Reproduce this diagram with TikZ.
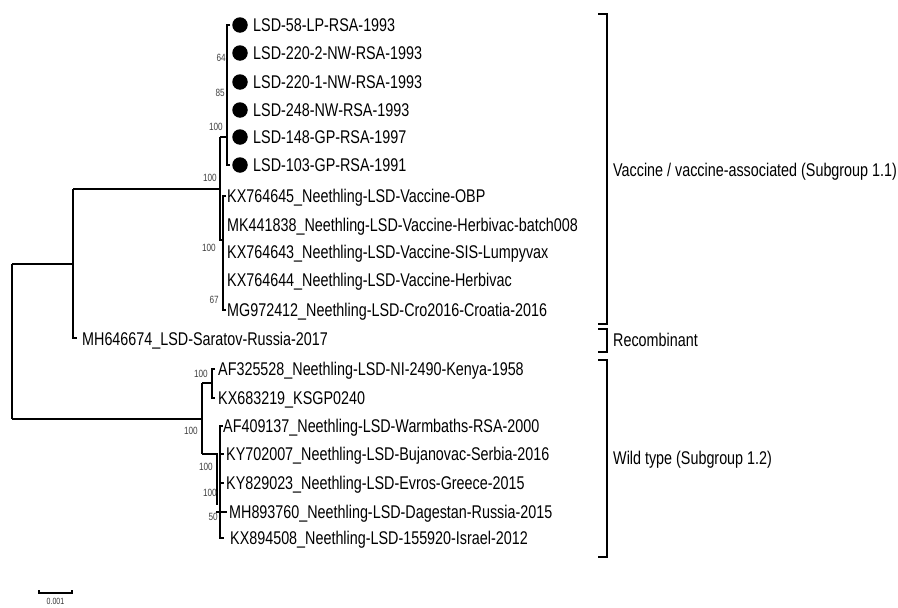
\documentclass[tikz,border=0pt]{standalone}
\usepackage{fontspec}
\setmainfont{Liberation Sans}[FakeStretch=0.78]
\begin{document}
\begin{tikzpicture}[x=1pt,y=-1pt,
  branch/.style={line width=1.3pt, line join=miter},
  brk/.style={line width=1.5pt, line join=miter},
  leaf/.style={anchor=base west, inner sep=0pt, font=\fontsize{18.4}{20}\selectfont},
  grp/.style={anchor=base west, inner sep=0pt, font=\fontsize{18.4}{20}\selectfont},
  boot/.style={anchor=east, inner sep=0pt, font=\fontsize{10.5}{11}\selectfont, text=black!75},
  dotmark/.style={circle, fill=black, inner sep=0pt, minimum size=15.5pt}]
\useasboundingbox (0,0) rectangle (898,608);

% ---------- leaves ----------
\foreach \n/\y in {d0/25, d1/53, d2/82, d3/110, d4/137, d5/165}
  \node[dotmark] (\n) at (240,\y) {};
\node[leaf] (l0) at (253,25+6.5) {LSD-58-LP-RSA-1993};
\node[leaf] (l1) at (253,53+6.5) {LSD-220-2-NW-RSA-1993};
\node[leaf] (l2) at (253,82+6.5) {LSD-220-1-NW-RSA-1993};
\node[leaf] (l3) at (253,110+6.5) {LSD-248-NW-RSA-1993};
\node[leaf] (l4) at (253,137+6.5) {LSD-148-GP-RSA-1997};
\node[leaf] (l5) at (253,165+6.5) {LSD-103-GP-RSA-1991};
\node[leaf] (l6) at (227,196+6.5) {KX764645\_Neethling-LSD-Vaccine-OBP};
\node[leaf] (l7) at (227,225+6.5) {MK441838\_Neethling-LSD-Vaccine-Herbivac-batch008};
\node[leaf] (l8) at (227,252+6.5) {KX764643\_Neethling-LSD-Vaccine-SIS-Lumpyvax};
\node[leaf] (l9) at (227,280+6.5) {KX764644\_Neethling-LSD-Vaccine-Herbivac};
\node[leaf] (l10) at (227,310+6.5) {MG972412\_Neethling-LSD-Cro2016-Croatia-2016};
\node[leaf] (l11) at (82,339+6.5) {MH646674\_LSD-Saratov-Russia-2017};
\node[leaf] (l12) at (218,369+6.5) {AF325528\_Neethling-LSD-NI-2490-Kenya-1958};
\node[leaf] (l13) at (218,398+6.5) {KX683219\_KSGP0240};
\node[leaf] (l14) at (223,426+6.5) {AF409137\_Neethling-LSD-Warmbaths-RSA-2000};
\node[leaf] (l15) at (226,454+6.5) {KY702007\_Neethling-LSD-Bujanovac-Serbia-2016};
\node[leaf] (l16) at (226,483+6.5) {KY829023\_Neethling-LSD-Evros-Greece-2015};
\node[leaf] (l17) at (229,512+6.5) {MH893760\_Neethling-LSD-Dagestan-Russia-2015};
\node[leaf] (l18) at (230,538+6.5) {KX894508\_Neethling-LSD-155920-Israel-2012};

% ---------- internal node points ----------
\coordinate (rootT) at (12,264);
\coordinate (rootB) at (12,419);
\coordinate (aT) at (73,189);
\coordinate (aM) at (73,264);
\coordinate (aB) at (73,338);
\coordinate (vT) at (220,137);
\coordinate (vM) at (220,189);
\coordinate (vB) at (220,240);
\coordinate (lT) at (227,25);
\coordinate (lM) at (227,137);
\coordinate (lB) at (227,165);
\coordinate (kT) at (223,196);
\coordinate (kM) at (223,240);
\coordinate (kB) at (223,310);
\coordinate (wT) at (202,383);
\coordinate (wM) at (202,419);
\coordinate (wB) at (202,454);
\coordinate (akT) at (212,369);
\coordinate (akM) at (212,383);
\coordinate (akB) at (212,398);
\coordinate (bT) at (217,454);
\coordinate (bB) at (217,505);
\coordinate (cT) at (220,426);
\coordinate (cM) at (220,454);
\coordinate (cB) at (220,538);

% ---------- branches ----------
\draw[branch] (rootT) -- (rootB);
\draw[branch] (rootT) -- (aM);
\draw[branch] (rootB) -- (wM);
\draw[branch] (aT) -- (aB) -- ++(4,0);
\draw[branch] (aT) -- (vM);
\draw[branch] (vT) -- (vB) -- (kM);
\draw[branch] (vT) -- (lM);
\draw[branch] ([xshift=3pt]lT) -- (lT) -- (lB) -- ++(3,0);
\draw[branch] ([xshift=3pt]kT) -- (kT) -- (kB) -- ++(3,0);
\draw[branch] (wT) -- (wB);
\draw[branch] (wT) -- (akM);
\draw[branch] ([xshift=3pt]akT) -- (akT) -- (akB) -- ++(3,0);
\draw[branch] (wB) -- (bT) -- (bB);
\draw[branch] ([xshift=3pt]cT) -- (cT) -- (cB) -- ++(4,0);
\draw[branch] (cM) -- ++(4,0);
\draw[branch] (220,483) -- ++(4,0);
\draw[branch] (216,512) -- (227,512);

% ---------- bootstrap values ----------
\node[boot] (b64) at (226,58) {64};
\node[boot] (b85) at (225,93) {85};
\node[boot] (b100a) at (223,127) {100};
\node[boot] (b100b) at (217,178) {100};
\node[boot] (b100c) at (216,248) {100};
\node[boot] (b67) at (219,300) {67};
\node[boot] (b100d) at (208,374) {100};
\node[boot] (b100e) at (198,431) {100};
\node[boot] (b100f) at (213,467) {100};
\node[boot] (b100g) at (217,493) {100};
\node[boot] (b50) at (218,517) {50};

% ---------- group brackets ----------
\coordinate (g1t) at (607,14);
\coordinate (g1b) at (607,324);
\coordinate (g2t) at (607,329);
\coordinate (g2b) at (607,352);
\coordinate (g3t) at (607,360);
\coordinate (g3b) at (607,557);
\draw[brk] ([xshift=-9pt]g1t) -- (g1t) -- (g1b) -- ++(-9,0);
\draw[brk] ([xshift=-9pt]g2t) -- (g2t) -- (g2b) -- ++(-9,0);
\draw[brk] ([xshift=-9pt]g3t) -- (g3t) -- (g3b) -- ++(-9,0);
\node[grp] (t1) at (613,170+6.5) {Vaccine / vaccine-associated (Subgroup 1.1)};
\node[grp] (t2) at (613,340+6.5) {Recombinant};
\node[grp] (t3) at (613,458+6.5) {Wild type (Subgroup 1.2)};

% ---------- scale bar ----------
\coordinate (s1) at (39,593);
\coordinate (s2) at (72,593);
\draw[line width=1.2pt] ([yshift=3pt]s1) -- (s1) -- (s2) -- ([yshift=3pt]s2);
\node[anchor=north, inner sep=0pt, font=\fontsize{9}{10}\selectfont, text=black!80] (sl) at (55.5,598.5) {0.001};
\end{tikzpicture}
\end{document}
